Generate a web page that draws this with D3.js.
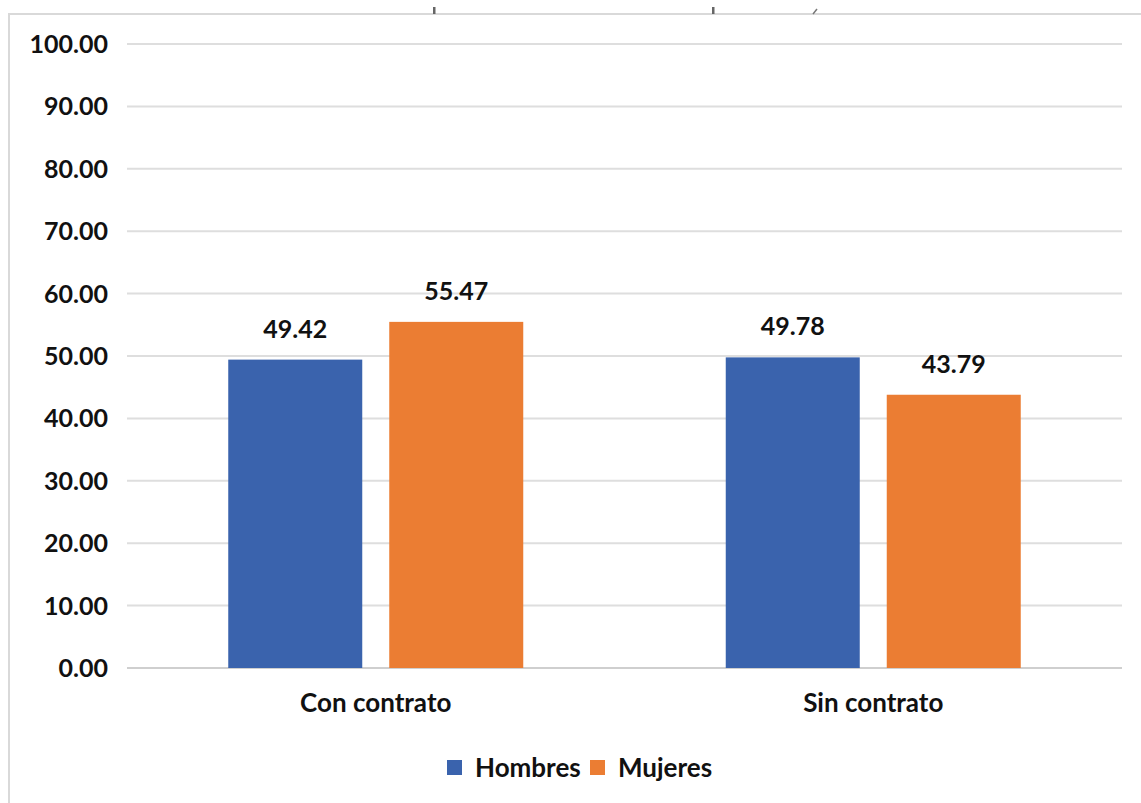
<!DOCTYPE html>
<html><head><meta charset="utf-8">
<script src="https://cdn.jsdelivr.net/npm/d3@7"></script>
<style>body{margin:0;background:#fff}svg{display:block}text{font-family:Lato,"Open Sans",sans-serif}</style>
</head><body><svg id="c" width="1141" height="803"></svg>
<script>
const categories = ["Con contrato", "Sin contrato"];
const seriesNames = ["Hombres", "Mujeres"];
const hombres = [49.42, 49.78];
const mujeres = [55.47, 43.79];
const yTicks = [0, 10, 20, 30, 40, 50, 60, 70, 80, 90, 100];
const colors = ["#3A63AD", "#EB7D33"];

const svg = d3.select("#c");
// frame
svg.append("path").attr("d", "M9,803 V14 H1141").attr("fill", "none").attr("stroke", "#d9d9d9").attr("stroke-width", 2);
// cut-off title remnants
[434, 713].forEach(x => svg.append("rect").attr("x", x - 1).attr("y", 7).attr("width", 2.5).attr("height", 7).attr("fill", "#666"));
svg.append("path").attr("d", "M813,14 L817,9").attr("stroke", "#777").attr("stroke-width", 1.5);

const x0 = d3.scaleBand().domain(categories).range([127, 1122]);
const y = d3.scaleLinear().domain([0, 100]).range([668, 44]);
const barW = 134, gap = 27;

// gridlines
svg.append("g").selectAll("line").data(yTicks).join("line")
  .attr("x1", 127).attr("x2", 1122).attr("y1", d => y(d)).attr("y2", d => y(d))
  .attr("stroke", d => d === 0 ? "#cfcfcf" : "#dedede").attr("stroke-width", 2);

// y tick labels
svg.append("g").selectAll("text").data(yTicks).join("text")
  .attr("x", 108).attr("y", d => y(d)).attr("dy", "0.36em").attr("text-anchor", "end")
  .attr("font-size", 25).attr("font-weight", 700).attr("fill", "#111")
  .text(d => d3.format(".2f")(d));

const data = categories.map((c, i) => ({ cat: c, vals: [hombres[i], mujeres[i]] }));
const g = svg.append("g");
data.forEach(d => {
  const cx = x0(d.cat) + x0.bandwidth() / 2;
  d.vals.forEach((v, j) => {
    const bx = j === 0 ? cx - gap / 2 - barW : cx + gap / 2;
    g.append("rect").attr("x", bx).attr("y", y(v)).attr("width", barW).attr("height", y(0) - y(v)).attr("fill", colors[j]);
    g.append("text").attr("x", bx + barW / 2).attr("y", y(v) - 22).attr("text-anchor", "middle")
      .attr("font-size", 25).attr("font-weight", 700).attr("fill", "#111").text(d3.format(".2f")(v));
  });
  g.append("text").attr("x", cx).attr("y", 712).attr("text-anchor", "middle")
    .attr("font-size", 26).attr("font-weight", 700).attr("fill", "#111").text(d.cat);
});

// legend
const leg = svg.append("g");
const legItems = [{ n: seriesNames[0], x: 447 }, { n: seriesNames[1], x: 590 }];
legItems.forEach((it, j) => {
  leg.append("rect").attr("x", it.x).attr("y", 760).attr("width", 15).attr("height", 15).attr("fill", colors[j]);
  leg.append("text").attr("x", it.x + 28).attr("y", 777).attr("font-size", 26).attr("font-weight", 700).attr("fill", "#111").text(it.n);
});
</script></body></html>
